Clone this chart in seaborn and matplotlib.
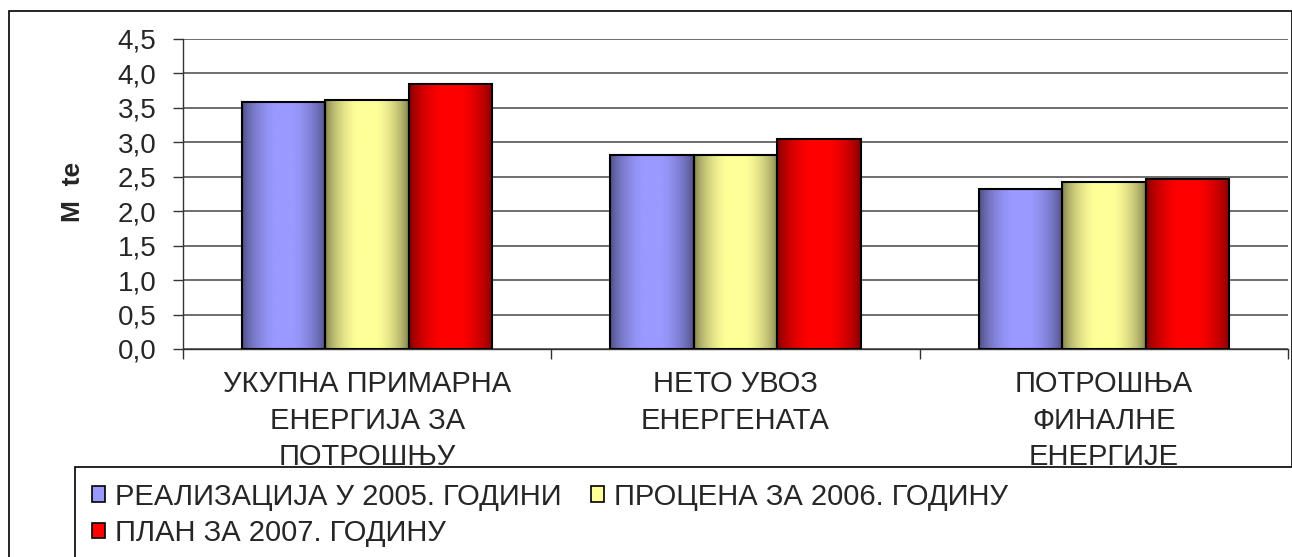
import numpy as np
import pandas as pd
import matplotlib
matplotlib.use('Agg')
import matplotlib.pyplot as plt
import seaborn as sns
from matplotlib.colors import LinearSegmentedColormap
from matplotlib.patches import Rectangle, Patch

# ── Data ─────────────────────────────────────────────────────────────────────
categories = ['УКУПНА ПРИМАРНА\nЕНЕРГИЈА ЗА\nПОТРОШЊУ',
              'НЕТО УВОЗ\nЕНЕРГЕНАТА',
              'ПОТРОШЊА\nФИНАЛНЕ\nЕНЕРГИЈЕ']
series = ['РЕАЛИЗАЦИЈА У 2005. ГОДИНИ',
          'ПРОЦЕНА ЗА 2006. ГОДИНУ',
          'ПЛАН ЗА 2007. ГОДИНУ']
real_2005 = [3.59, 2.82, 2.32]
est_2006 = [3.62, 2.82, 2.43]
plan_2007 = [3.85, 3.05, 2.47]
yticks = [0.0, 0.5, 1.0, 1.5, 2.0, 2.5, 3.0, 3.5, 4.0, 4.5]

# (dark edge, light centre) per series
shades = [('#4d4d80', '#9999ff'),
          ('#80804d', '#ffff99'),
          ('#800000', '#ff0000')]

df = pd.DataFrame({
    'cat': categories * 3,
    'series': [s for s in series for _ in categories],
    'value': real_2005 + est_2006 + plan_2007,
})

sns.set_style('white')
plt.rcParams['font.family'] = ['Liberation Sans', 'DejaVu Sans']

W, H = 1292, 557
fig = plt.figure(figsize=(W / 100, H / 100), dpi=100)
ax = fig.add_axes([183 / W, 1 - 349 / H, (1288 - 183) / W, (349 - 39) / H])

sns.barplot(data=df, x='cat', y='value', hue='series', hue_order=series,
            palette=[c[1] for c in shades], width=0.68, gap=0,
            edgecolor='black', linewidth=1.5, legend=False, ax=ax)

# horizontal gradient fill, dark at the edges and light in the middle
xs = np.linspace(0, 1, 64)
prof = np.clip(np.sin(np.pi * xs) ** 0.7 * 1.05, 0, 1)[None, :]
for cont, (dark, light) in zip(ax.containers, shades):
    cmap = LinearSegmentedColormap.from_list('g', [dark, light])
    for bar in cont:
        x0, y0 = bar.get_x(), bar.get_y()
        w, h = bar.get_width(), bar.get_height()
        im = ax.imshow(prof, cmap=cmap, vmin=0, vmax=1, aspect='auto',
                       extent=[x0, x0 + w, y0, y0 + h], zorder=2,
                       interpolation='bilinear')
        im.set_clip_path(bar)
        bar.set_facecolor('none')
        bar.set_zorder(3)

ax.set_xlim(-0.5, 2.5)
ax.set_ylim(0, 4.5)
ax.set_yticks(yticks)
ax.set_yticklabels([f'{t:.1f}'.replace('.', ',') for t in yticks], fontsize=20)
ax.grid(axis='y', color='#555555', linewidth=1.2)
ax.set_axisbelow(True)

ax.set_xticks(range(3))
ax.set_xticklabels(categories, fontsize=21, linespacing=1.40)
ax.set_xticks([-0.5, 0.5, 1.5, 2.5], minor=True)
ax.tick_params(axis='x', which='major', length=0, pad=15)
ax.tick_params(axis='x', which='minor', length=7, width=1, color='#333333',
               direction='out', bottom=True)
ax.tick_params(axis='y', length=7, width=1, color='#333333', direction='out',
               left=True, pad=12)

ax.set_xlabel('')
ax.set_ylabel('M  te', fontsize=19, fontweight='bold')
ax.yaxis.set_label_coords(-0.089, 0.506)

for side in ['top', 'right']:
    ax.spines[side].set_visible(False)
for side in ['left', 'bottom']:
    ax.spines[side].set_color('#333333')
    ax.spines[side].set_linewidth(1)

# outer chart border and legend box
fig.add_artist(Rectangle((9 / W, -0.01), (W - 9) / W - 0.5 / W, 1 - 11 / H + 0.01,
                         transform=fig.transFigure, fill=False,
                         edgecolor='black', linewidth=1.2))
fig.add_artist(Rectangle((75 / W, -0.01), 1.0, 1 - 467 / H + 0.01,
                         transform=fig.transFigure, facecolor='white',
                         edgecolor='black', linewidth=1.2, zorder=5))

handles = [Patch(facecolor=light, edgecolor='black', linewidth=1.2)
           for _, light in shades]
order = [0, 2, 1]
leg = fig.legend([handles[i] for i in order], [series[i] for i in order],
                 loc='upper left', bbox_to_anchor=(80 / W, 1 - 471 / H),
                 ncol=2, frameon=False, fontsize=21, handlelength=0.45,
                 handleheight=0.45, handletextpad=0.35, columnspacing=1.0,
                 labelspacing=0.28, borderaxespad=0)
leg.set_zorder(6)

fig.savefig('out.png', dpi=100)
